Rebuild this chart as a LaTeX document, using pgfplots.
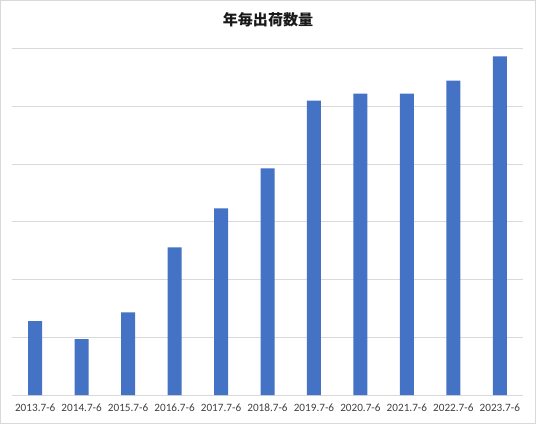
\documentclass[border=0pt]{standalone}
\usepackage{pgfplots}
\pgfplotsset{compat=1.18}
\usepackage{fontspec}
\setmainfont{Carlito}
\newfontfamily\cjk{Noto Sans CJK JP}
\definecolor{barblue}{HTML}{4472C4}
\definecolor{gridgray}{HTML}{D9D9D9}
\begin{document}
\begin{tikzpicture}
\draw[gridgray, line width=0.75pt] (0.4pt,0.4pt) rectangle (401.6pt,317.6pt);
\node[font=\cjk\bfseries\fontsize{11.3pt}{13pt}\selectfont, text=black!90] at (201pt,303pt) {年毎出荷数量};
\begin{axis}[
  at={(9pt,21.75pt)}, anchor=south west,
  scale only axis, width=383.25pt, height=259.5pt,
  xmin=-0.5, xmax=10.5, ymin=0, ymax=6,
  axis line style={draw=none},
  ytick={0,1,2,3,4,5,6}, yticklabels={},
  ymajorgrids, grid style={gridgray, line width=0.75pt},
  major tick length=0pt,
  xtick={0,...,10},
  xticklabels={2013.7-6,2014.7-6,2015.7-6,2016.7-6,2017.7-6,2018.7-6,2019.7-6,2020.7-6,2021.7-6,2022.7-6,2023.7-6},
  xticklabel style={font=\fontsize{8.4pt}{10pt}\selectfont, text=black!75, yshift=-3pt},
  /pgf/number format/assume math mode=true,
  clip=false,
]
\addplot[ybar, bar width=10.5pt, fill=barblue, draw=none] coordinates {
(0,1.283) (1,0.971) (2,1.434) (3,2.561) (4,3.237) (5,3.931) (6,5.103) (7,5.225) (8,5.225) (9,5.450) (10,5.873)
};
\end{axis}
\end{tikzpicture}
\end{document}
